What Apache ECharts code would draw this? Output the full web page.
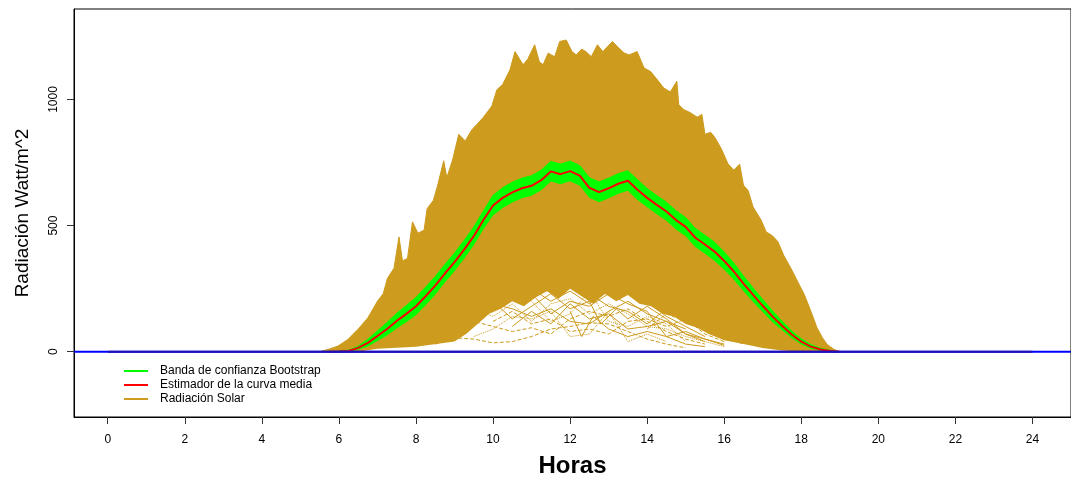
<!DOCTYPE html>
<html>
<head>
<meta charset="utf-8">
<script src="https://cdn.jsdelivr.net/npm/echarts@6/dist/echarts.min.js"></script>
<style>
html,body{margin:0;padding:0;background:#fff;}
#chart{width:1071px;height:483px;}
</style>
</head>
<body>
<div id="chart"></div>
<script>
// ---- data ----
const xTicks = [0,2,4,6,8,10,12,14,16,18,20,22,24];
const yTicks = [0,500,1000];

// upper envelope of the bundle of daily radiation curves
const upperH = [5.5,5.72,5.97,6.23,6.49,6.75,7.0,7.15,7.26,7.43,7.56,7.65,7.78,7.91,8.05,8.21,8.29,8.45,8.55,8.72,8.8,8.95,9.11,9.28,9.45,9.58,9.75,9.97,10.1,10.25,10.44,10.57,10.78,10.9,11.08,11.2,11.3,11.43,11.6,11.73,11.9,12.05,12.16,12.3,12.41,12.55,12.71,12.85,13.1,13.27,13.4,13.53,13.74,13.92,14.09,14.26,14.43,14.6,14.77,14.82,14.95,15.12,15.3,15.42,15.5,15.65,15.76,15.93,16.1,16.25,16.4,16.5,16.62,16.75,16.96,17.09,17.25,17.39,17.55,17.73,17.9,18.08,18.25,18.41,18.55,18.67,18.85,19.0];
const upperV = [0,9,22,48,88,134,200,230,291,331,455,360,370,515,470,482,567,600,652,757,690,760,862,836,880,901,930,974,1039,1060,1118,1190,1138,1160,1217,1150,1138,1184,1170,1230,1236,1190,1177,1200,1190,1170,1217,1190,1230,1203,1185,1177,1190,1125,1111,1079,1046,1030,1072,980,960,948,930,941,862,870,849,803,744,720,744,660,639,574,521,475,460,437,380,331,280,226,160,94,55,29,9,0];

// lower edge of the solid part of the bundle
const solidLowH = [5.5,6.5,7,8,9,9.3,9.6,9.9,10.2,10.5,10.8,11.1,11.4,11.7,12,12.3,12.6,12.9,13.2,13.5,13.8,14.1,14.4,14.7,15,15.3,15.6,16,16.5,17,17.5,18];
const solidLowV = [0,0,12,20,40,70,110,150,170,200,180,215,240,210,250,220,190,230,200,225,190,180,150,140,110,95,70,45,30,15,5,0];

// individual low curves (cloudy days)
const low1 = [[8.5,30],[9,55],[9.5,50],[10,35],[10.5,40],[11,60],[11.5,90],[12,100],[12.5,115],[13,110],[13.5,80],[14,50],[14.5,30],[15,15]];
const low2 = [[9,80],[9.5,120],[10,100],[10.5,80],[11,95],[11.5,70],[12,130],[12.5,160],[13,140],[13.5,170],[14,120],[14.5,80],[15,50],[15.5,30]];
const low3 = [[9.5,150],[10,190],[10.5,170],[11,140],[11.5,170],[12,120],[12.5,110],[13,160],[13.5,200],[14,150],[14.5,120],[15,90]];
const low4 = [[10,200],[10.5,130],[11,180],[11.5,230],[12,170],[12.5,200],[12.8,110],[13.2,170],[13.5,130],[14,180],[14.5,130],[15,70],[15.5,40]];
const low5 = [[9,100],[9.5,170],[10,140],[10.5,190],[11,120],[11.5,190],[12,210],[12.5,150],[13,190],[13.5,150],[14,100],[14.5,90],[15,60],[16,20]];
const low6 = [[11,230],[11.5,150],[12,200],[12.5,180],[13,230],[13.5,190],[14,160],[14.5,60],[15,80],[15.5,50],[16,30]];
const low7 = [[10,120],[10.5,160],[11,110],[11.5,130],[12,80],[12.5,90],[13,70],[13.5,120],[14,130],[14.5,100],[15,130],[15.5,70],[16,40]];
const low8 = [[12.5,230],[13,180],[13.5,160],[14,110],[14.5,170],[15,150],[15.5,110],[16,70],[16.5,40],[17,20]];
const low9 = [[9.5,120],[10,230],[10.5,210],[11,250],[11.5,200],[12,240],[12.5,190],[13,240],[13.5,230],[14,200],[14.5,140],[15,100],[15.5,60]];
const low10 = [[10,170],[10.5,230],[11,200],[11.5,120],[12,150],[12.5,240],[13,120],[13.5,100],[14,140],[14.5,110],[15,40]];
const low11 = [[12,160],[12.3,60],[12.6,140],[13,90],[13.5,60],[14,80],[14.5,60],[15,30],[15.5,20]];
const low12 = [[14,90],[14.5,150],[15,120],[15.5,90],[16,60],[16.5,30]];
const low13 = [[9.5,60],[10,90],[10.5,140],[11,130],[11.5,160],[12,60],[12.5,70],[13,160],[13.5,40],[14,70],[14.5,40]];
const low14 = [[10.5,100],[11,160],[11.5,110],[12,190],[12.5,130],[13,150],[13.5,90],[14,100],[14.5,120],[15,70],[15.5,50],[16,25]];

// mean curve and bootstrap band
const meanH = [5.75,6,6.25,6.5,6.75,7,7.25,7.5,7.75,8,8.25,8.5,8.75,9,9.25,9.5,9.75,10,10.25,10.5,10.75,11,11.25,11.5,11.75,12,12.25,12.5,12.75,13,13.25,13.5,13.75,14,14.25,14.5,14.75,15,15.25,15.5,15.75,16,16.25,16.5,16.75,17,17.25,17.5,17.75,18,18.25,18.5,18.75,19];
const meanV = [0,1,3,15,35,62,90,122,150,180,220,262,310,355,405,458,522,580,610,632,648,658,680,715,704,716,698,650,633,648,666,678,642,610,582,556,522,495,452,425,397,360,318,270,225,182,140,103,68,40,20,9,3,0];
const bandLo = [0,0,0,8,21,42,64,92,117,145,184,226,274,319,369,422,486,540,570,592,608,618,640,675,664,676,658,610,593,608,626,638,602,573,545,519,485,458,415,388,360,325,285,240,197,157,118,85,54,29,12,4,1,0];
const bandHi = [0,2,6,22,49,82,116,152,183,215,256,298,346,391,441,494,558,620,650,672,688,698,720,755,744,756,738,690,673,688,706,718,682,647,619,593,559,532,489,462,434,395,351,300,253,207,162,121,82,51,28,14,5,0];

const COL_SOLAR = '#CD9B1D';
const COL_BAND = '#00FF00';
const COL_MEAN = '#FF0000';
const FONT = '"Liberation Sans", Arial, Helvetica, sans-serif';

const pts = (hs, vs) => hs.map((h, i) => [h, vs[i]]);
const areaSeries = (name, data, color, lineW, z) => ({
  name: name, type: 'line', data: data, showSymbol: false, silent: true, z: z,
  itemStyle: {color: color}, lineStyle: {color: color, width: lineW},
  areaStyle: {color: color, opacity: 1}
});

const lowCurves = [
  {d: low1, t: 'dashed'}, {d: low2, t: 'dashed'}, {d: low3, t: 'solid'}, {d: low4, t: 'solid'},
  {d: low5, t: 'dotted'}, {d: low6, t: 'solid'}, {d: low7, t: 'dashed'}, {d: low8, t: 'solid'},
  {d: low9, t: 'solid'}, {d: low10, t: 'dotted'}, {d: low11, t: 'solid'}, {d: low12, t: 'dashed'},
  {d: low13, t: 'dotted'}, {d: low14, t: 'solid'}
];

const series = [];
// whole bundle (upper envelope down to the axis)
series.push(areaSeries('Radiación Solar', pts(upperH, upperV), COL_SOLAR, 1, 2));
// bootstrap band: green down to the axis, then the bundle re-covers below the lower band edge
series.push(areaSeries('Banda de confianza Bootstrap', pts(meanH, bandHi), COL_BAND, 1, 2));
series.push(areaSeries('solarBelowBand', pts(meanH, bandLo), COL_SOLAR, 0, 2));
// gaps between the low (cloudy) curves
series.push(areaSeries('gap', pts(solidLowH, solidLowV), '#FFFFFF', 0, 2));
lowCurves.forEach((c, i) => series.push({
  name: 'low' + i, type: 'line', data: c.d, showSymbol: false, silent: true, z: 2,
  lineStyle: {color: COL_SOLAR, width: 1, type: c.t}
}));
series.push({
  name: 'Estimador de la curva media', type: 'line', data: pts(meanH, meanV),
  showSymbol: false, silent: true, itemStyle: {color: COL_MEAN},
  lineStyle: {width: 2, color: COL_MEAN, opacity: 1, shadowBlur: 0}, z: 10
});
series.push({
  name: 'cero', type: 'line', data: [[-0.875, 0], [25, 0]], showSymbol: false, silent: true,
  lineStyle: {width: 2, color: '#0000FF'}, z: 11
});
series.push({
  name: 'cero2', type: 'line', data: [[0, 0], [24, 0]], showSymbol: false, silent: true,
  lineStyle: {width: 2, color: '#1E10B4'}, z: 11
});

const chart = echarts.init(document.getElementById('chart'), null, {renderer: 'canvas'});
chart.setOption({
  animation: false,
  backgroundColor: '#fff',
  textStyle: {fontFamily: FONT},
  grid: {left: 74, right: -8, top: 9, bottom: 64, show: true, borderColor: '#000', borderWidth: 1, backgroundColor: 'transparent'},
  legend: {
    left: 119, top: 360, orient: 'vertical', itemGap: 2, itemWidth: 24, itemHeight: 2,
    selectedMode: false, icon: 'rect',
    textStyle: {fontSize: 12, color: '#000', fontFamily: FONT, padding: [0, 0, 0, 7]},
    data: [
      {name: 'Banda de confianza Bootstrap', itemStyle: {color: COL_BAND}},
      {name: 'Estimador de la curva media', itemStyle: {color: COL_MEAN}},
      {name: 'Radiación Solar', itemStyle: {color: COL_SOLAR}}
    ]
  },
  xAxis: {
    type: 'value', min: -0.875, max: 25,
    splitLine: {show: false},
    axisLine: {show: true, onZero: false, lineStyle: {color: '#000', width: 1}},
    axisTick: {show: true, length: 7, customValues: xTicks, lineStyle: {color: '#333'}},
    axisLabel: {customValues: xTicks, fontSize: 12, color: '#000', margin: 17, fontFamily: FONT,
      formatter: v => String(v)},
    name: 'Horas', nameLocation: 'middle', nameGap: 37,
    nameTextStyle: {fontSize: 24, fontWeight: 'bold', color: '#000', fontFamily: FONT}
  },
  yAxis: {
    type: 'value', min: -259, max: 1359,
    splitLine: {show: false},
    axisLine: {show: true, onZero: false, lineStyle: {color: '#000', width: 1}},
    axisTick: {show: true, length: 7, customValues: yTicks, lineStyle: {color: '#333'}},
    axisLabel: {customValues: yTicks, fontSize: 12, color: '#000', rotate: 90, margin: 14, fontFamily: FONT,
      formatter: v => String(v)},
    name: 'Radiación Watt/m^2', nameLocation: 'middle', nameGap: 42,
    nameTextStyle: {fontSize: 19, color: '#000', fontFamily: FONT}
  },
  series: series
});
</script>
</body>
</html>
